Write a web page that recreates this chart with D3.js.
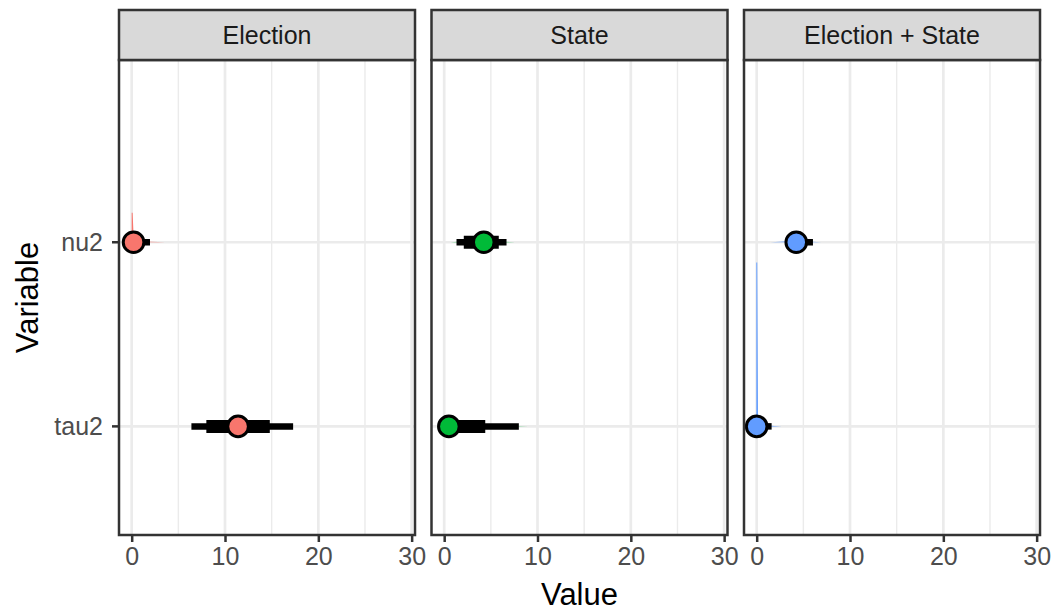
<!DOCTYPE html>
<html>
<meta charset="utf-8">
<style>
body { margin: 0; background: #fff; }
svg { font-family: "Liberation Sans", Arial, sans-serif; }
</style>
<body>
<svg width="1053" height="611"></svg>
<script src="https://d3js.org/d3.v7.min.js"></script>
<script>

// data
var panels = ["Election", "State", "Election + State"];
var variables = ["nu2", "tau2"];
var colors = ["#F8766D", "#00BA38", "#619CFF"];
var xTicks = [0, 10, 20, 30];
var xMinor = [5, 15, 25];

// point estimate per panel, in the order of variables
var pointElection = [0.2, 11.4];
var pointState = [4.24, 0.5];
var pointBoth = [4.24, 0.0];

// thin (outer) and thick (inner) intervals
var thinElection = [[0, 1.96], [6.4, 17.3]];
var thickElection = [[0, 0.9], [8.0, 14.8]];
var thinState = [[1.32, 6.68], [0, 8.0]];
var thickState = [[2.1, 5.85], [0, 4.4]];
var thinBoth = [[3.2, 6.03], [0, 1.6]];
var thickBoth = [[3.5, 5.1], [0, 0.8]];

// density slabs: x values and heights (in rows)
var densElectionNu = {x: [0, 0.1, 0.2, 0.4, 1, 2, 3.6], h: [0.16, 0.16, 0.04, 0.012, 0.006, 0.003, 0]};
var densElectionTau = {x: [7, 11, 16], h: [0, 0.0005, 0]};
var densStateNu = {x: [0.7, 2, 4, 6, 7.6], h: [0, 0.004, 0.006, 0.003, 0]};
var densStateTau = {x: [0, 0.2, 1, 3, 6, 9], h: [0, 0.008, 0.006, 0.004, 0.002, 0]};
var densBothNu = {x: [1.5, 3, 4.2, 5.5, 6.9], h: [0, 0.004, 0.006, 0.004, 0]};
var densBothTau = {x: [-0.04, 0.06, 0.14, 0.3, 0.8, 1.5, 2.7], h: [0.89, 0.89, 0.06, 0.02, 0.008, 0.004, 0]};

var panelData = [
  {points: pointElection, thin: thinElection, thick: thickElection, dens: [densElectionNu, densElectionTau]},
  {points: pointState, thin: thinState, thick: thickState, dens: [densStateNu, densStateTau]},
  {points: pointBoth, thin: thinBoth, thick: thickBoth, dens: [densBothNu, densBothTau]}
];

var svg = d3.select("svg");
var panelLeft = [119, 431.5, 744],
    panelW = 296,
    stripTop = 10,
    panelTop = 60,
    panelBottom = 535;

// rows: nu2 at 2, tau2 at 1
var rowVal = {nu2: 2, tau2: 1};
var y = d3.scaleLinear().domain([0.41, 2.99]).range([panelBottom, panelTop]);

panels.forEach(function(name, i) {
  var x0 = panelLeft[i];
  var x = d3.scaleLinear().domain([-1.36, 30.36]).range([x0, x0 + panelW]);
  var g = svg.append("g");
  var pd = panelData[i];

  // grid
  g.selectAll(".minor").data(xMinor).enter().append("line")
      .attr("x1", function(d) { return x(d); }).attr("x2", function(d) { return x(d); })
      .attr("y1", panelTop).attr("y2", panelBottom)
      .attr("stroke", "#EBEBEB").attr("stroke-width", 1.4);
  g.selectAll(".major").data(xTicks).enter().append("line")
      .attr("x1", function(d) { return x(d); }).attr("x2", function(d) { return x(d); })
      .attr("y1", panelTop).attr("y2", panelBottom)
      .attr("stroke", "#EBEBEB").attr("stroke-width", 2.7);
  g.selectAll(".hmajor").data(variables).enter().append("line")
      .attr("x1", x0).attr("x2", x0 + panelW)
      .attr("y1", function(d) { return y(rowVal[d]); }).attr("y2", function(d) { return y(rowVal[d]); })
      .attr("stroke", "#EBEBEB").attr("stroke-width", 2.7);

  // density slabs
  variables.forEach(function(v, j) {
    var dd = pd.dens[j];
    var pts = dd.x.map(function(xv, k) { return [xv, dd.h[k]]; });
    var area = d3.area()
        .x(function(p) { return x(p[0]); })
        .y0(y(rowVal[v]))
        .y1(function(p) { return y(rowVal[v] + p[1]); });
    g.append("path").attr("d", area(pts)).attr("fill", colors[i]);
  });

  // intervals
  variables.forEach(function(v, j) {
    var yy = y(rowVal[v]);
    g.append("line")
        .attr("x1", x(pd.thin[j][0])).attr("x2", x(pd.thin[j][1]))
        .attr("y1", yy).attr("y2", yy)
        .attr("stroke", "#000").attr("stroke-width", 6.5);
    g.append("line")
        .attr("x1", x(pd.thick[j][0])).attr("x2", x(pd.thick[j][1]))
        .attr("y1", yy).attr("y2", yy)
        .attr("stroke", "#000").attr("stroke-width", 13);
  });

  // points
  g.selectAll("circle").data(variables).enter().append("circle")
      .attr("cx", function(d, j) { return x(pd.points[j]); })
      .attr("cy", function(d) { return y(rowVal[d]); })
      .attr("r", 10.3)
      .attr("fill", colors[i])
      .attr("stroke", "#000")
      .attr("stroke-width", 3);

  // panel border
  g.append("rect")
      .attr("x", x0).attr("y", panelTop)
      .attr("width", panelW).attr("height", panelBottom - panelTop)
      .attr("fill", "none").attr("stroke", "#333333").attr("stroke-width", 2.5);

  // strip
  g.append("rect")
      .attr("x", x0).attr("y", stripTop)
      .attr("width", panelW).attr("height", panelTop - stripTop)
      .attr("fill", "#D9D9D9").attr("stroke", "#333333").attr("stroke-width", 2.5);
  g.append("text")
      .attr("x", x0 + panelW / 2).attr("y", (stripTop + panelTop) / 2)
      .attr("dy", "0.36em")
      .attr("text-anchor", "middle")
      .attr("font-size", 25)
      .attr("fill", "#1A1A1A")
      .text(name);

  // x axis
  var ax = g.append("g").attr("transform", "translate(0," + panelBottom + ")")
      .call(d3.axisBottom(x).tickValues(xTicks).tickSize(7).tickPadding(5).tickFormat(d3.format("d")));
  ax.select(".domain").remove();
  ax.selectAll(".tick line").attr("stroke", "#333333").attr("stroke-width", 2.5);
  ax.selectAll(".tick text").attr("font-size", 25).attr("fill", "#4D4D4D").attr("font-family", null);
});

// y axis on first panel
var yax = svg.append("g").attr("transform", "translate(" + panelLeft[0] + ",0)");
variables.forEach(function(v) {
  var yy = y(rowVal[v]);
  yax.append("line").attr("x1", -7).attr("x2", 0).attr("y1", yy).attr("y2", yy)
      .attr("stroke", "#333333").attr("stroke-width", 2.5);
  yax.append("text").attr("x", -16).attr("y", yy).attr("dy", "0.36em")
      .attr("text-anchor", "end").attr("font-size", 25).attr("fill", "#4D4D4D").text(v);
});

// axis titles
svg.append("text")
    .attr("x", (panelLeft[0] + panelLeft[2] + panelW) / 2).attr("y", 605)
    .attr("text-anchor", "middle").attr("font-size", 31).attr("fill", "#000")
    .text("Value");
svg.append("text")
    .attr("transform", "translate(38," + (panelTop + panelBottom) / 2 + ") rotate(-90)")
    .attr("text-anchor", "middle").attr("font-size", 31).attr("fill", "#000")
    .text("Variable");

</script>
</body>
</html>
